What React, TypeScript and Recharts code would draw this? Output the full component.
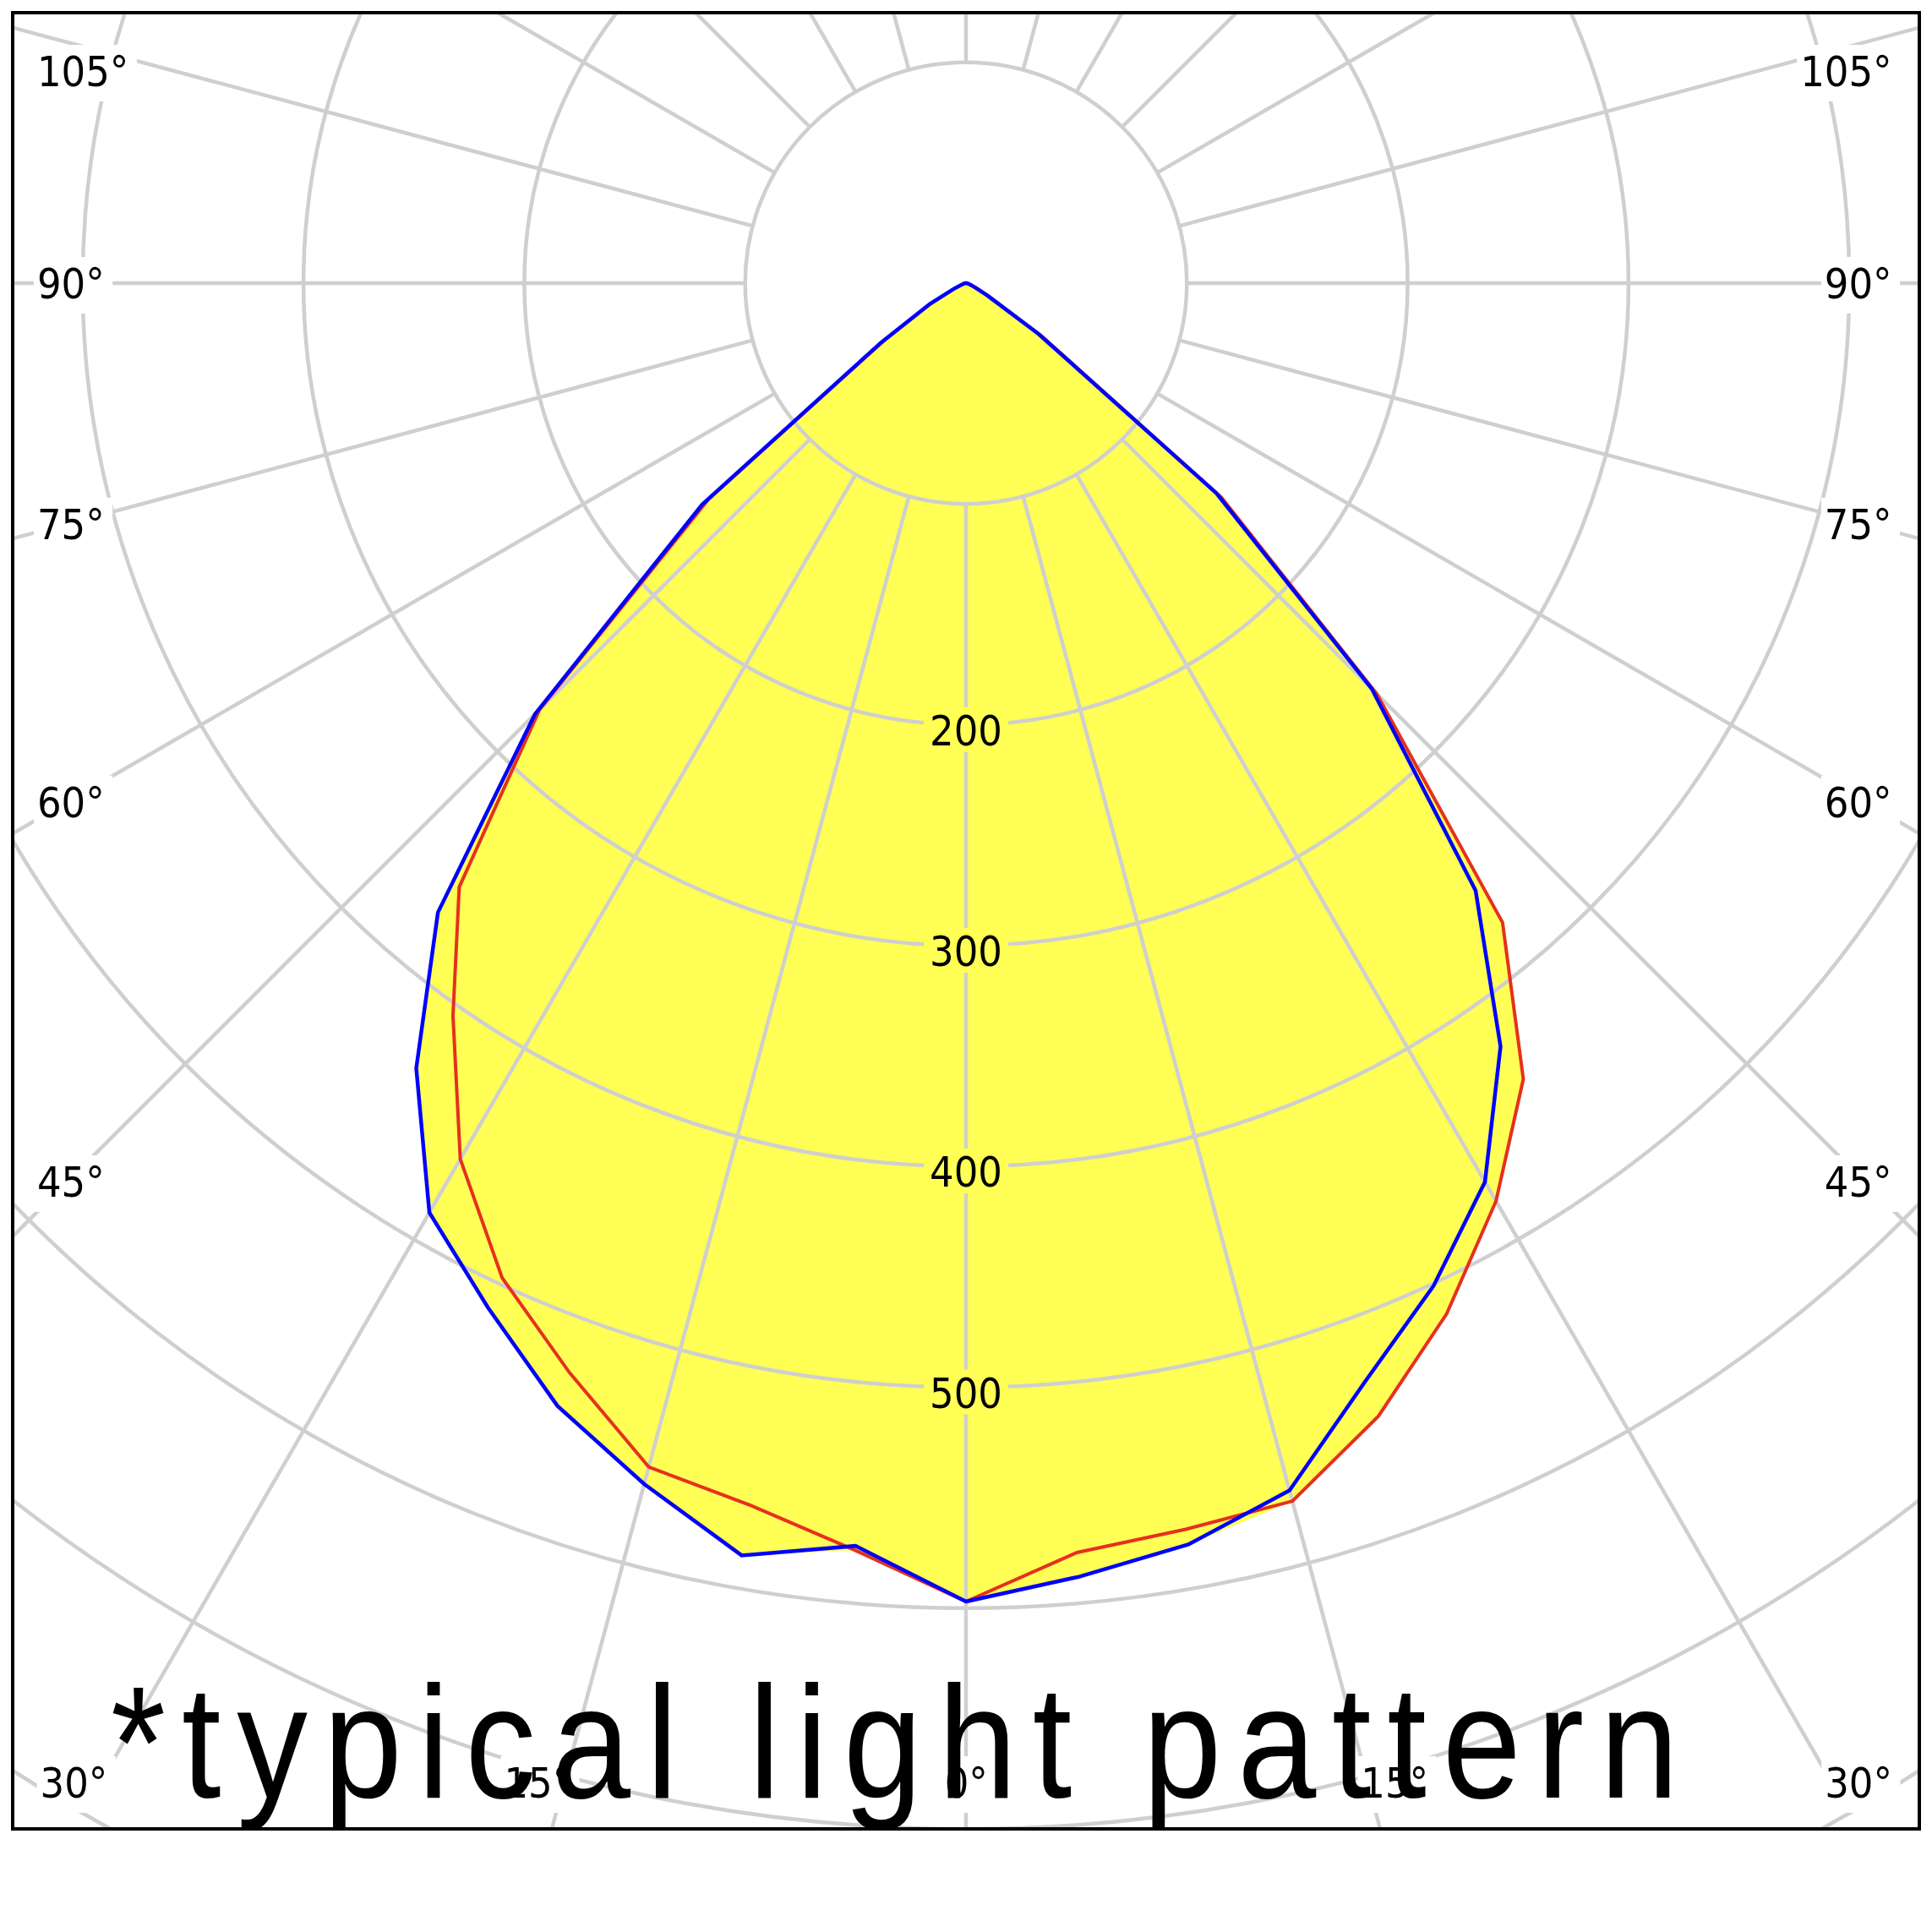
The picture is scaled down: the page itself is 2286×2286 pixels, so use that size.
import React from 'react';
import { RadarChart, Radar, PolarGrid, PolarAngleAxis, PolarRadiusAxis } from 'recharts';

// Gamma angles (degrees from nadir) of the measured intensities
const GAMMA = [0, 5, 10, 15, 20, 25, 30, 35, 40, 45, 50, 55, 60, 65, 70, 75, 80, 85, 90];
// Red curve: right half (C0) and left half (C180)
const RED_C0 = [597, 577, 573, 571, 546, 515, 480, 440, 378, 263, 151, 42, 12, 5, 2, 1, 0.5, 0.2, 0];
const RED_C180 = [597, 576, 562, 555, 525, 497, 458, 405, 357, 273, 152, 45, 18, 6, 2, 1, 0.5, 0.2, 0];
// Blue curve: right half (C90) and left half (C270)
const BLUE_C90 = [597, 588, 580, 566, 529, 501, 470, 422, 359, 260, 148, 40, 11, 4, 2, 1, 0.5, 0.2, 0];
const BLUE_C270 = [597, 574, 585, 563, 541, 512, 486, 434, 372, 276, 156, 47, 19, 6, 2, 1, 0.5, 0.2, 0];

const STEP = 5;
const SPOKES = [0, 15, 30, 45, 60, 75, 90, 105, 120, 135, 150, 165, 180, 195, 210, 225, 240, 255, 270, 285, 300, 315, 330, 345];
const RADIUS_DOMAIN: [number, number] = [100, 800];
const RADIUS_LABELS = [200, 300, 400, 500];
const ANGLE_LABELS = [0, 15, 30, 45, 60, 75, 90, 105];
const TITLE = '*typical light pattern';

// table for the radar charts (angle a measured counter-clockwise from nadir on screen)
const rows: { a: number; red: number; blue: number; env: number }[] = [];
for (let a = 0; a < 360; a += STEP) {
  let red = 0;
  let blue = 0;
  if (a <= 90) {
    const i = GAMMA.indexOf(a);
    red = RED_C0[i];
    blue = BLUE_C90[i];
  } else if (a >= 270) {
    const i = GAMMA.indexOf(360 - a);
    red = RED_C180[i];
    blue = BLUE_C270[i];
  }
  rows.push({ a, red, blue, env: Math.max(red, blue) });
}
const gridRows = SPOKES.map((a) => ({ a, v: 100 }));

// layout
const OFF = 17;
const W = 2252;
const H = 2145;
const CX = 1126;
const CY = 318;
const K = 2.613;
const R_MAX = 800 * K;
const R_MIN = 100 * K;
// the category axis puts the first category one band past startAngle
const START = -90;
const CURVE_START = START - STEP;
const GRID_START = START - 15;

const YELLOW = '#FFFF55';
const GRID = '#CFCFCF';
const RED = '#E5311E';
const BLUE = '#0000FF';
const LABEL_FONT = "'DejaVu Sans Condensed', 'DejaVu Sans', sans-serif";
const LABEL_SIZE = 50;

const labelWidth = (s: string) => (s.length - 1) * 28.6 + 22;

const RadiusTick = (props: any) => {
  const { x, y, payload } = props;
  if (!RADIUS_LABELS.includes(Number(payload.value))) return <g />;
  return (
    <g>
      <rect x={x - 50} y={y - 21} width={100} height={53} fill={YELLOW} />
      <text
        x={x}
        y={y + 24}
        textAnchor="middle"
        fontFamily={LABEL_FONT}
        fontStretch="condensed"
        fontSize={LABEL_SIZE}
        fill="#000"
      >
        {payload.value}
      </text>
    </g>
  );
};

const AngleTick = (props: any) => {
  const a = Number(props.payload.value);
  const right = a <= 180;
  const g = right ? a : 360 - a;
  if (!ANGLE_LABELS.includes(g)) return <g />;
  const txt = `${g}°`;
  const w = labelWidth(txt);
  const sign = right ? 1 : -1;
  const rad = (g * Math.PI) / 180;
  let yC: number;
  let xStart: number;
  if (g <= 30) {
    yC = 2092;
    const xRay = CX + sign * (yC - CY) * Math.tan(rad);
    if (g === 0) xStart = xRay - w / 2;
    else if (right) xStart = xRay - 8;
    else xStart = xRay + 8 - w;
  } else {
    const dy = 1063 / Math.tan(rad);
    yC = Math.max(CY + dy, 67);
    xStart = right ? 2221 - w : 27;
  }
  return (
    <g>
      <rect x={xStart - 4} y={yC - 31} width={w + 14} height={67} fill="#fff" />
      <text
        x={xStart}
        y={yC + 18}
        textAnchor="start"
        fontFamily={LABEL_FONT}
        fontStretch="condensed"
        fontSize={LABEL_SIZE}
        fill="#000"
      >
        {txt}
      </text>
    </g>
  );
};

const layer: React.CSSProperties = { position: 'absolute', left: 0, top: 0 };
const MARGIN = { top: 0, right: 0, bottom: 0, left: 0 };
const TITLE_SCALE = 0.88;

export default function App() {
  return (
    <div style={{ position: 'absolute', left: 0, top: 0, width: 2286, height: 2286, background: '#fff' }}>
      <div style={{ position: 'absolute', left: OFF, top: OFF, width: W, height: H, overflow: 'hidden' }}>
        {/* filled envelope */}
        <div style={layer}>
          <RadarChart
            width={W}
            height={H}
            data={rows}
            cx={CX}
            cy={CY}
            innerRadius={0}
            outerRadius={R_MAX}
            startAngle={CURVE_START}
            endAngle={CURVE_START + 360}
            margin={MARGIN}
          >
            <PolarAngleAxis dataKey="a" tick={false} axisLine={false} tickLine={false} />
            <PolarRadiusAxis domain={[0, 800]} type="number" tick={false} axisLine={false} tickLine={false} allowDataOverflow />
            <Radar dataKey="env" stroke="none" fill={YELLOW} fillOpacity={1} dot={false} isAnimationActive={false} />
          </RadarChart>
        </div>
        {/* grid with labels */}
        <div style={layer}>
          <RadarChart
            width={W}
            height={H}
            data={gridRows}
            cx={CX}
            cy={CY}
            innerRadius={R_MIN}
            outerRadius={R_MAX}
            startAngle={GRID_START}
            endAngle={GRID_START + 360}
            margin={MARGIN}
          >
            <PolarGrid gridType="circle" stroke={GRID} strokeWidth={4.5} />
            <Radar dataKey="v" stroke="none" fill="none" dot={false} isAnimationActive={false} />
            <PolarAngleAxis dataKey="a" tick={AngleTick} axisLine={false} tickLine={false} />
            <PolarRadiusAxis
              domain={RADIUS_DOMAIN}
              type="number"
              tickCount={8}
              angle={-90}
              tick={RadiusTick}
              axisLine={false}
              tickLine={false}
              allowDataOverflow
            />
          </RadarChart>
        </div>
        {/* curves */}
        <div style={layer}>
          <RadarChart
            width={W}
            height={H}
            data={rows}
            cx={CX}
            cy={CY}
            innerRadius={0}
            outerRadius={R_MAX}
            startAngle={CURVE_START}
            endAngle={CURVE_START + 360}
            margin={MARGIN}
          >
            <PolarAngleAxis dataKey="a" tick={false} axisLine={false} tickLine={false} />
            <PolarRadiusAxis domain={[0, 800]} type="number" tick={false} axisLine={false} tickLine={false} allowDataOverflow />
            <Radar dataKey="red" stroke={RED} strokeWidth={4} fill="none" fillOpacity={0} dot={false} isAnimationActive={false} />
            <Radar dataKey="blue" stroke={BLUE} strokeWidth={4.5} fill="none" fillOpacity={0} dot={false} isAnimationActive={false} />
          </RadarChart>
        </div>
        {/* title */}
        <svg style={layer} width={W} height={H}>
          <g transform={`translate(${131 - OFF}, ${2127 - OFF}) scale(${TITLE_SCALE}, 1)`}>
            <text
              x={0}
              y={0}
              fontFamily="'Liberation Sans', Arial, sans-serif"
              fontSize={190}
              textLength={1855 / TITLE_SCALE}
              lengthAdjust="spacing"
              fill="#000"
            >
              {TITLE}
            </text>
          </g>
        </svg>
      </div>
      <div
        style={{
          position: 'absolute',
          left: 13,
          top: 13,
          width: 2260,
          height: 2153,
          border: '4px solid #000',
          boxSizing: 'border-box',
        }}
      />
    </div>
  );
}
